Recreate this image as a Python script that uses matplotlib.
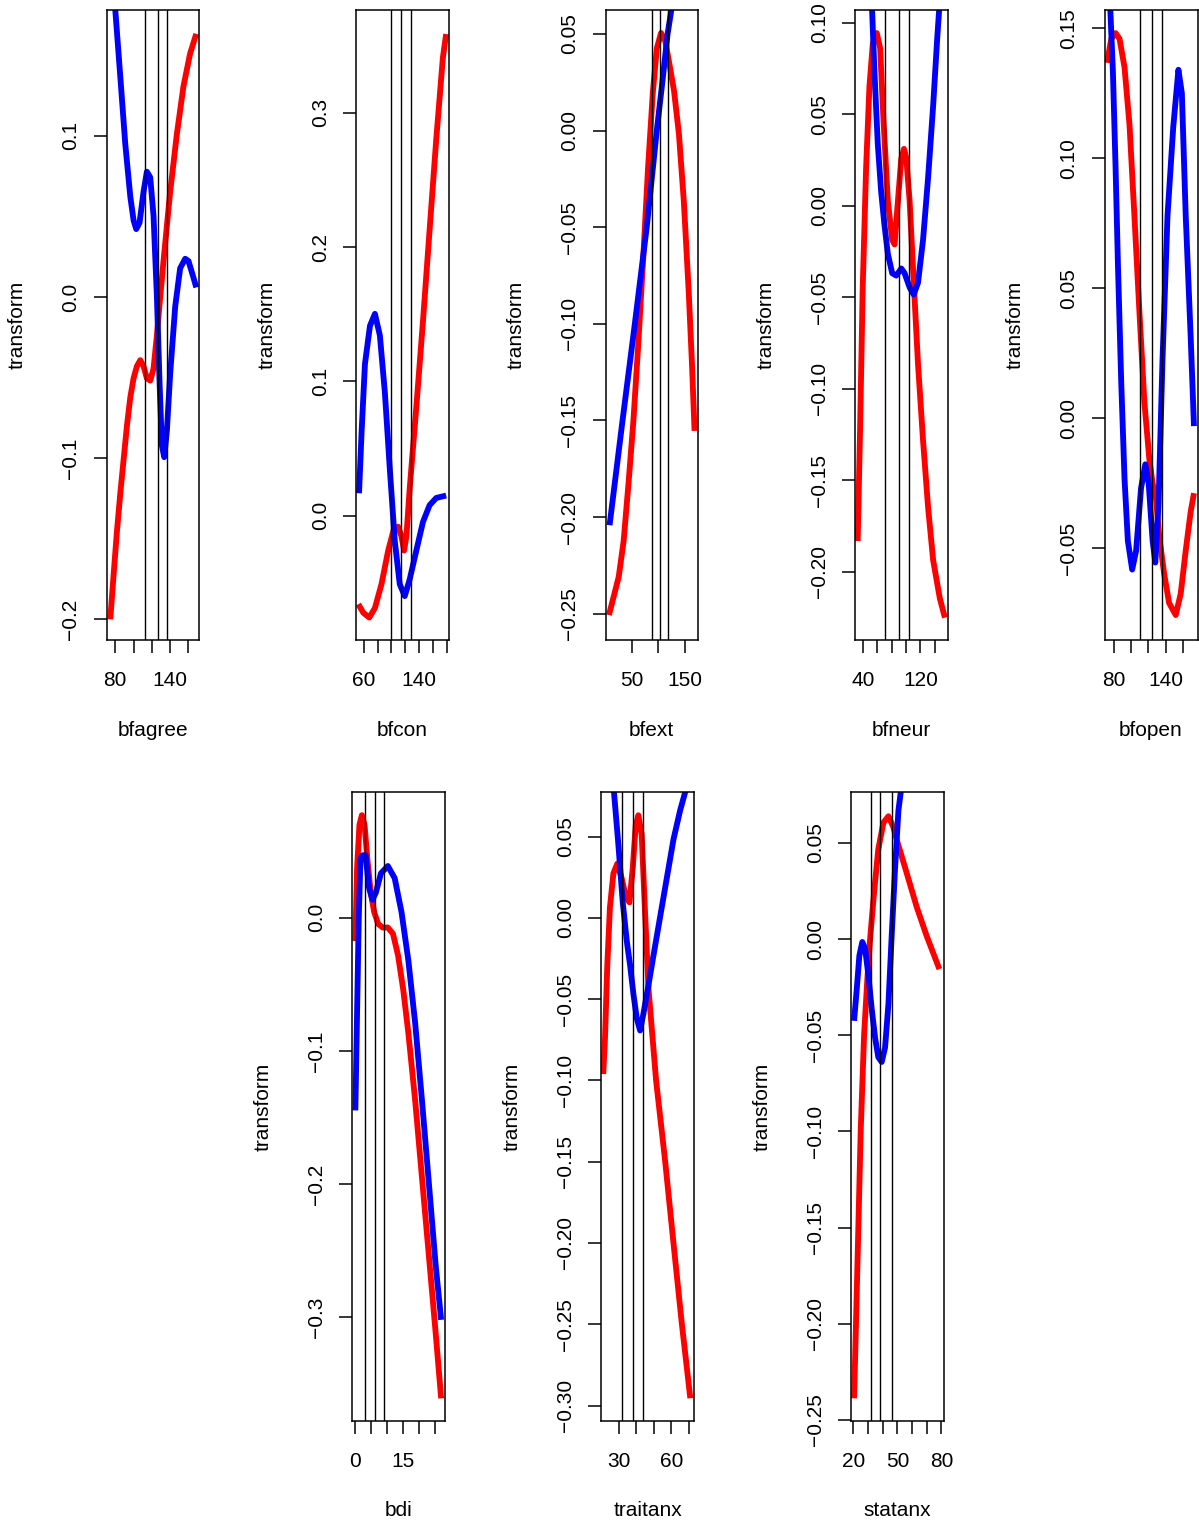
import matplotlib
matplotlib.use('Agg')
import matplotlib.pyplot as plt

plt.rcParams['font.family'] = ['Liberation Sans', 'DejaVu Sans']

# ---- data ----
panel_names = ['bfagree', 'bfcon', 'bfext', 'bfneur', 'bfopen', 'bdi', 'traitanx', 'statanx']

bfagree_red_x = [74.5, 78.2, 81.8, 85.5, 89.1, 92.7, 96.4, 100, 103.6, 107.3, 110.9, 114.5, 118.2,
                 121.8, 125.5, 129.1, 132.7, 140, 147.3, 154.5, 161.8, 168.5]
bfagree_red_y = [-0.2, -0.1721, -0.1454, -0.1217, -0.1009, -0.0801, -0.0623, -0.0504, -0.043, -0.0392,
                 -0.043, -0.0504, -0.0519, -0.0445, -0.0237, 0.0, 0.0223, 0.0653, 0.101, 0.1306, 0.151, 0.1632]
bfagree_blue_x = [76, 80, 85.5, 90.9, 96.4, 100, 102.9, 106.5, 110.9, 114.5, 118.2, 121.8, 125.5, 128.4,
                  130.9, 133.5, 136.4, 140, 145.5, 150.9, 156.4, 160, 165.5, 168.5]
bfagree_blue_y = [0.215, 0.178, 0.1365, 0.095, 0.0623, 0.0475, 0.0421, 0.046, 0.0653, 0.0777, 0.0742,
                  0.0504, 0.0, -0.0534, -0.092, -0.0994, -0.083, -0.0475, -0.0059, 0.0178, 0.0237,
                  0.0223, 0.0119, 0.0059]

bfcon_red_x = [51.8, 59, 67.7, 75.9, 85.5, 95.2, 103.4, 109.6, 114.5, 118.3, 121.7, 126.5, 136.1,
               145.8, 155.4, 165.1, 174.7, 179.5]
bfcon_red_y = [-0.0659, -0.0723, -0.0759, -0.0688, -0.0509, -0.026, -0.01, -0.0082, -0.0153, -0.026,
               -0.0153, 0.0203, 0.0809, 0.145, 0.2127, 0.2804, 0.341, 0.3587]
bfcon_blue_x = [52.8, 56.6, 61.4, 68.7, 75.9, 83.1, 90.4, 97.6, 104.8, 112, 119.3, 126.5, 136.1,
                145.8, 155.4, 165.1, 179.5]
bfcon_blue_y = [0.0167, 0.063, 0.1129, 0.1414, 0.1503, 0.1343, 0.0916, 0.0346, -0.0189, -0.051,
                -0.0599, -0.0474, -0.026, -0.0046, 0.0078, 0.0132, 0.015]

bfext_red_x = [7, 16.3, 25.5, 34.8, 44, 53.2, 62.4, 71.8, 81, 90.2, 97.6, 105.6, 113.6, 121, 130.3,
               139.5, 148.7, 158, 164.1, 169]
bfext_red_y = [-0.2507, -0.2408, -0.2309, -0.2124, -0.1827, -0.1505, -0.1109, -0.0663, -0.0193, 0.0203,
               0.0426, 0.0505, 0.0463, 0.0351, 0.0203, -0.002, -0.0366, -0.0837, -0.1208, -0.1554]
bfext_blue_x = [8.2, 32.5, 56, 78.5, 97.5, 108, 118, 125, 135]
bfext_blue_y = [-0.2042, -0.1505, -0.10, -0.05, 0.0, 0.025, 0.05, 0.0624, 0.085]

bfneur_red_x = [33, 36.3, 40, 44.7, 49.3, 54, 59.5, 64.2, 68.8, 74.9, 80.9, 84.2, 88.8, 93.5, 97.2,
                100.5, 105.1, 109.8, 116.7, 123.7, 130.7, 137.7, 147, 154]
bfneur_red_y = [-0.1833, -0.1232, -0.0447, 0.0207, 0.0651, 0.0887, 0.0944, 0.086, 0.0468, 0.0024,
                -0.0186, -0.0212, 0.0024, 0.0259, 0.0311, 0.0259, 0.0024, -0.0343, -0.0866, -0.1284,
                -0.165, -0.1938, -0.2147, -0.2252]
bfneur_blue_x = [51, 53, 56.3, 60.9, 65.6, 70.2, 74.9, 80.9, 86.5, 93.5, 98.1, 105.1, 110.7, 116.7,
                 123.7, 130.7, 137.7, 143.3, 146, 148]
bfneur_blue_y = [0.14, 0.107, 0.073, 0.0337, 0.0076, -0.0107, -0.0264, -0.0369, -0.0382, -0.0343,
                 -0.0369, -0.0447, -0.0486, -0.0421, -0.0186, 0.0154, 0.0547, 0.0913, 0.107, 0.14]

bfopen_red_x = [71.9, 76.9, 81.9, 86.5, 92.3, 98.1, 103.8, 109.6, 115.4, 121.2, 125, 128.8, 132.7,
                138.5, 144.2, 151.9, 157.7, 163.5, 169.2, 173.1]
bfopen_red_y = [0.1367, 0.1459, 0.1481, 0.1459, 0.1349, 0.1128, 0.0778, 0.041, 0.0061, -0.016, -0.0252,
                -0.0307, -0.0455, -0.0602, -0.0712, -0.0758, -0.0675, -0.051, -0.0362, -0.0289]
bfopen_blue_x = [74, 75.8, 78.8, 81.9, 84.6, 88.5, 92.3, 96.2, 101.2, 105.8, 111.5, 116.5, 120.4, 125,
                 128.1, 131.9, 136.5, 142.3, 149, 155, 159, 163.5, 169.2, 173.1]
bfopen_blue_y = [0.18, 0.157, 0.133, 0.0962, 0.0594, 0.0134, -0.0234, -0.0473, -0.0583, -0.051, -0.027,
                 -0.0178, -0.0252, -0.0473, -0.0556, -0.0326, 0.0226, 0.0778, 0.112, 0.134, 0.125,
                 0.0778, 0.0318, -0.0031]

bdi_red_x = [0, 0.53, 1.28, 2.03, 2.88, 3.74, 4.81, 5.87, 7.15, 8.54, 10.15, 11.75, 13.35, 14.94,
             16.55, 18.69, 20.82, 22.96, 25.09, 26.8]
bdi_red_y = [-0.0175, 0.0371, 0.0698, 0.0771, 0.0698, 0.0444, 0.0189, 0.0044, -0.0047, -0.0073, -0.0073,
             -0.012, -0.0284, -0.0538, -0.0865, -0.1375, -0.1956, -0.2538, -0.312, -0.361]
bdi_blue_x = [0, 0.53, 1.07, 1.6, 2.24, 3.2, 4.27, 5.34, 6.4, 8, 10.15, 12.28, 14.41, 16.55, 18.69,
              20.82, 22.96, 25.09, 26.8]
bdi_blue_y = [-0.1447, -0.072, 0.0007, 0.0444, 0.047, 0.047, 0.0225, 0.0135, 0.0189, 0.0335, 0.0389,
              0.0298, 0.0044, -0.032, -0.0793, -0.1375, -0.1993, -0.2611, -0.302]

traitanx_red_x = [21.2, 22.2, 23.5, 25, 27, 29.2, 31.7, 34.2, 36.1, 38, 39.7, 41.2, 43.1, 45, 47,
                  51.3, 56.5, 61.2, 66, 70.8]
traitanx_red_y = [-0.0961, -0.0738, -0.0292, 0.0065, 0.0274, 0.0333, 0.0244, 0.0125, 0.0095, 0.0304,
                  0.0571, 0.0631, 0.0512, 0.0036, -0.044, -0.10, -0.15, -0.20, -0.25, -0.2955]
traitanx_blue_x = [26, 27.3, 29.8, 32.3, 34.6, 36.5, 38.4, 40.3, 42.2, 44.1, 47, 49.8, 53.6, 57.4,
                   61.2, 65, 67.9, 69.5]
traitanx_blue_y = [0.095, 0.0774, 0.0452, 0.0095, -0.0143, -0.0292, -0.047, -0.0619, -0.0693, -0.0589,
                   -0.0411, -0.0232, 0.0006, 0.0244, 0.0482, 0.0661, 0.0774, 0.095]

statanx_red_x = [20.5, 21.8, 23.4, 25, 27.3, 29.5, 31.4, 34.1, 37, 40.5, 43.9, 47.3, 49.5, 56.4,
                 63.2, 70, 78.6]
statanx_red_y = [-0.2388, -0.2, -0.15, -0.1, -0.05, -0.0211, 0.0, 0.0242, 0.0468, 0.0606, 0.0639,
                 0.0581, 0.0518, 0.0342, 0.0166, 0.0015, -0.0156]
statanx_blue_x = [20.5, 22.3, 24.1, 26.1, 28, 30.2, 32.5, 34.8, 37, 39.3, 41.6, 43.9, 46.1, 48.4,
                  50.7, 52.3, 53.5]
statanx_blue_y = [-0.0425, -0.0262, -0.0086, -0.0015, -0.0048, -0.0186, -0.0362, -0.0513, -0.0614,
                  -0.0639, -0.0564, -0.0337, 0.0015, 0.0367, 0.0669, 0.0765, 0.1]

# knot positions (vertical lines)
bfagree_knots = [112.2, 126.2, 137]
bfcon_knots = [100, 114.5, 128.5]
bfext_knots = [88, 104, 118.5]
bfneur_knots = [70.5, 90.6, 104.7]
bfopen_knots = [110.3, 124.1, 136.3]
bdi_knots = [3, 6, 9]
traitanx_knots = [32, 38.2, 44.1]
statanx_knots = [31.9, 38, 46.6]

# axis ticks and the labels R kept
bfagree_xticks = [80, 100, 120, 140, 160]
bfagree_xlabels = ['80', '', '', '140', '']
bfcon_xticks = [60, 80, 100, 120, 140, 160, 180]
bfcon_xlabels = ['60', '', '', '', '140', '', '']
bfext_xticks = [50, 100, 150]
bfext_xlabels = ['50', '', '150']
bfneur_xticks = [40, 60, 80, 100, 120, 140]
bfneur_xlabels = ['40', '', '', '', '120', '']
bfopen_xticks = [80, 100, 120, 140, 160]
bfopen_xlabels = ['80', '', '', '140', '']
bdi_xticks = [0, 5, 10, 15, 20, 25]
bdi_xlabels = ['0', '', '', '15', '', '']
traitanx_xticks = [30, 40, 50, 60, 70]
traitanx_xlabels = ['30', '', '', '60', '']
statanx_xticks = [20, 30, 40, 50, 60, 70, 80]
statanx_xlabels = ['20', '', '', '50', '', '', '80']

bfagree_yticks = [-0.2, -0.1, 0.0, 0.1]
bfcon_yticks = [0.0, 0.1, 0.2, 0.3]
bfext_yticks = [-0.25, -0.20, -0.15, -0.10, -0.05, 0.0, 0.05]
bfneur_yticks = [-0.20, -0.15, -0.10, -0.05, 0.0, 0.05, 0.10]
bfopen_yticks = [-0.05, 0.0, 0.05, 0.10, 0.15]
bdi_yticks = [-0.3, -0.2, -0.1, 0.0]
traitanx_yticks = [-0.30, -0.25, -0.20, -0.15, -0.10, -0.05, 0.0, 0.05]
statanx_yticks = [-0.25, -0.20, -0.15, -0.10, -0.05, 0.0, 0.05]
ytick_decimals = [1, 1, 2, 2, 2, 1, 2, 2]

# ---- layout (pixels: left, right, top, bottom) ----
W, H = 1199, 1531
boxes = [(106.5, 199, 10, 640), (356, 448.5, 10, 640), (605.5, 698, 10, 640),
         (855, 947.5, 10, 640), (1104.5, 1197.5, 10, 640),
         (352, 445, 792, 1421), (601.5, 694, 792, 1421), (851, 943.5, 792, 1421)]
xlims = [(70.4, 171.5), (48.4, 182.9), (0.5, 175.5), (29.3, 157.6), (69, 177.2),
         (-1.05, 28.0), (20.2, 72.9), (18.4, 81.4)]
ylims = [(-0.2128, 0.178), (-0.0926, 0.3766), (-0.2636, 0.0624), (-0.2374, 0.107),
         (-0.0854, 0.157), (-0.378, 0.0945), (-0.3095, 0.0774), (-0.2506, 0.0765)]

g = globals()
fig = plt.figure(figsize=(W / 100, H / 100), dpi=100)

for i, name in enumerate(panel_names):
    x0, x1, y0, y1 = boxes[i]
    ax = fig.add_axes([x0 / W, 1 - y1 / H, (x1 - x0) / W, (y1 - y0) / H])
    ax.plot(g[name + '_red_x'], g[name + '_red_y'], color='#ff0000', lw=4.2,
            solid_capstyle='butt', solid_joinstyle='round', zorder=2)
    ax.plot(g[name + '_blue_x'], g[name + '_blue_y'], color='#0000ff', lw=4.2,
            solid_capstyle='butt', solid_joinstyle='round', zorder=2)
    for k in g[name + '_knots']:
        ax.axvline(k, color='black', lw=1.0, zorder=3)
    ax.set_xlim(*xlims[i])
    ax.set_ylim(*ylims[i])

    ax.set_xticks(g[name + '_xticks'])
    ax.set_xticklabels(g[name + '_xlabels'])
    yt = g[name + '_yticks']
    d = ytick_decimals[i]
    ax.set_yticks(yt)
    ax.set_yticklabels([f'{v:.{d}f}'.replace('-', '\u2212') for v in yt],
                       rotation=90, va='center')
    ax.tick_params(axis='both', direction='out', length=9.4, width=1.1,
                   labelsize=15, color='black')
    ax.tick_params(axis='x', pad=13)
    ax.tick_params(axis='y', pad=9.4)
    for sp in ax.spines.values():
        sp.set_linewidth(1.1)

    ax.set_xlabel(name, fontsize=15, va='center')
    ax.xaxis.set_label_coords(0.5, -90 / (y1 - y0))
    ax.set_ylabel('transform', fontsize=15, ha='center', va='center')
    ax.yaxis.set_label_coords(-89 / (x1 - x0), 0.5)

fig.savefig('out.png', dpi=100)
